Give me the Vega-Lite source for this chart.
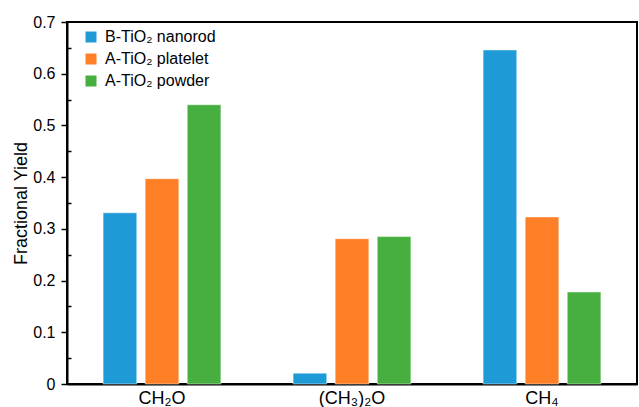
{
  "$schema": "https://vega.github.io/schema/vega-lite/v6.json",
  "width": 570,
  "height": 362,
  "autosize": "none",
  "padding": {"left": 67, "top": 22, "right": 2, "bottom": 23},
  "background": "white",
  "config": {
    "font": "Liberation Sans",
    "view": {"stroke": "black", "strokeWidth": 2},
    "axis": {"grid": false, "labelColor": "black", "titleColor": "black", "domainColor": "black", "tickColor": "black"}
  },
  "data": {
    "values": [
      {"product": "CH₂O", "catalyst": "B-TiO₂ nanorod", "yield": 0.331},
      {"product": "CH₂O", "catalyst": "A-TiO₂ platelet", "yield": 0.397},
      {"product": "CH₂O", "catalyst": "A-TiO₂ powder", "yield": 0.540},
      {"product": "(CH₃)₂O", "catalyst": "B-TiO₂ nanorod", "yield": 0.021},
      {"product": "(CH₃)₂O", "catalyst": "A-TiO₂ platelet", "yield": 0.281},
      {"product": "(CH₃)₂O", "catalyst": "A-TiO₂ powder", "yield": 0.285},
      {"product": "CH₄", "catalyst": "B-TiO₂ nanorod", "yield": 0.646},
      {"product": "CH₄", "catalyst": "A-TiO₂ platelet", "yield": 0.323},
      {"product": "CH₄", "catalyst": "A-TiO₂ powder", "yield": 0.178}
    ]
  },
  "encoding": {
    "x": {
      "field": "product", "type": "nominal",
      "sort": ["CH₂O", "(CH₃)₂O", "CH₄"],
      "scale": {"paddingInner": 0.38, "paddingOuter": 0.19},
      "axis": {"title": null, "labelAngle": 0, "ticks": false, "labelFontSize": 18, "labelPadding": 5, "domainWidth": 2}
    },
    "y": {
      "field": "yield", "type": "quantitative",
      "scale": {"domain": [0, 0.7], "nice": false, "zero": true}
    }
  },
  "layer": [
    {
      "mark": {"type": "bar", "stroke": "white", "strokeOpacity": 0.6, "strokeWidth": 0.8},
      "encoding": {
        "xOffset": {
          "field": "catalyst", "type": "nominal",
          "sort": ["B-TiO₂ nanorod", "A-TiO₂ platelet", "A-TiO₂ powder"],
          "scale": {"paddingInner": 0.2, "paddingOuter": 0}
        },
        "y": {
          "field": "yield", "type": "quantitative",
          "axis": {
            "title": "Fractional Yield", "titleFontSize": 18, "titleFontWeight": "normal", "titlePadding": 2,
            "values": [0, 0.1, 0.2, 0.3, 0.4, 0.5, 0.6, 0.7], "format": ".1~f",
            "labelFontSize": 16, "labelPadding": 6, "tickSize": 6, "tickWidth": 1.5, "domainWidth": 2
          }
        },
        "color": {
          "field": "catalyst", "type": "nominal",
          "sort": ["B-TiO₂ nanorod", "A-TiO₂ platelet", "A-TiO₂ powder"],
          "scale": {"range": ["#1E9BD7", "#FE7F26", "#47AF3F"]},
          "legend": {
            "title": null, "orient": "none", "legendX": 16, "legendY": 7,
            "symbolType": "square", "symbolSize": 121, "symbolStrokeWidth": 0,
            "labelFontSize": 16, "labelColor": "black", "labelOffset": 6, "rowPadding": 6
          }
        }
      }
    },
    {
      "mark": {"type": "point", "opacity": 0},
      "encoding": {
        "y": {
          "field": "yield", "type": "quantitative",
          "axis": {
            "title": null, "orient": "left", "labels": false, "domain": false,
            "values": [0.05, 0.15, 0.25, 0.35, 0.45, 0.55, 0.65],
            "tickSize": -4, "tickWidth": 1.5
          }
        }
      }
    }
  ],
  "resolve": {"axis": {"y": "independent"}}
}
